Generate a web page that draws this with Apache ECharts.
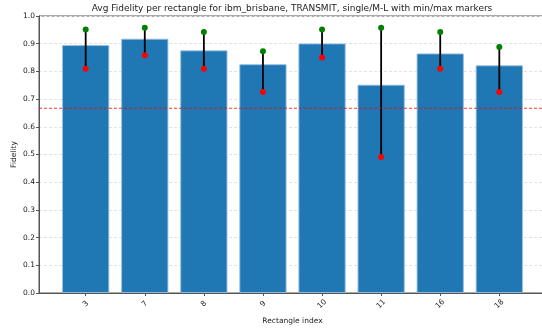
<!DOCTYPE html>
<html>
<head>
<meta charset="utf-8">
<script src="https://cdn.jsdelivr.net/npm/echarts@6/dist/echarts.min.js"></script>
<style>
  html, body { margin: 0; padding: 0; background: #fff; }
  #chart { width: 542px; height: 329px; }
</style>
</head>
<body>
<div id="chart"></div>
<script>
// rectangle ids on the x axis
const rectangles = ["3", "7", "8", "9", "10", "11", "16", "18"];
// average fidelity per rectangle
const avgFidelity = [0.895, 0.918, 0.876, 0.826, 0.901, 0.752, 0.865, 0.822];
// min / max markers
const minFidelity = [0.810, 0.858, 0.810, 0.726, 0.850, 0.491, 0.810, 0.726];
const maxFidelity = [0.951, 0.958, 0.942, 0.873, 0.951, 0.958, 0.942, 0.888];
const threshold = 0.667;
const xRange = [-0.79, 7.79];

const font = "DejaVu Sans";
const idx = rectangles.map((_, i) => i);

const chart = echarts.init(document.getElementById("chart"), null, { renderer: "canvas" });

const option = {
  animation: false,
  title: {
    text: "Avg Fidelity per rectangle for ibm_brisbane, TRANSMIT, single/M-L with min/max markers",
    left: 292,
    textAlign: "center",
    top: 4,
    padding: 0,
    textStyle: { fontFamily: font, fontSize: 9, fontWeight: "normal", color: "#222" },
  },
  grid: {
    left: 39,
    top: 16,
    width: 507,
    height: 277,
    outerBoundsMode: "none",
    containLabel: false,
    show: true,
    borderColor: "#555",
    borderWidth: 1,
  },
  xAxis: {
    type: "value",
    min: xRange[0],
    max: xRange[1],
    name: "Rectangle index",
    nameLocation: "middle",
    nameGap: 21,
    nameTextStyle: { fontFamily: font, fontSize: 7.5, color: "#222" },
    axisLine: { show: true, onZero: false, lineStyle: { color: "#555", width: 1 } },
    axisTick: { show: true, length: 3, lineStyle: { color: "#555" }, customValues: idx },
    axisLabel: {
      customValues: idx,
      formatter: (v) => rectangles[Math.round(v)],
      rotate: 45,
      margin: 11,
      align: "center",
      verticalAlign: "middle",
      fontFamily: font,
      fontSize: 7.5,
      color: "#222",
    },
    splitLine: { show: false },
  },
  yAxis: {
    type: "value",
    min: 0,
    max: 1,
    interval: 0.1,
    name: "Fidelity",
    nameLocation: "middle",
    nameGap: 21,
    nameMoveOverlap: false,
    nameTextStyle: { fontFamily: font, fontSize: 7.5, color: "#222" },
    axisLine: { show: true, onZero: false, lineStyle: { color: "#555", width: 1 } },
    axisTick: { show: true, length: 3, lineStyle: { color: "#555" } },
    axisLabel: {
      formatter: (v) => v.toFixed(1),
      margin: 4,
      fontFamily: font,
      fontSize: 7.5,
      color: "#222",
    },
    splitLine: { show: true, lineStyle: { color: "#e2e2e2", type: [3, 2], width: 1 } },
  },
  series: [
    {
      type: "bar",
      data: avgFidelity.map((v, i) => [i, v]),
      barWidth: "80%",
      itemStyle: { color: "#1f77b4", borderColor: "rgba(150,190,225,0.9)", borderWidth: 1 },
      z: 2,
    },
    {
      // threshold line
      type: "line",
      data: xRange.map((x) => [x, threshold]),
      symbol: "none",
      silent: true,
      lineStyle: { color: "#ff0000", type: [3, 2], width: 1, opacity: 0.8 },
      z: 5,
    },
    {
      type: "custom",
      data: idx.map((i) => [i, minFidelity[i], maxFidelity[i]]),
      renderItem: (params, api) => {
        const p1 = api.coord([api.value(0), api.value(1)]);
        const p2 = api.coord([api.value(0), api.value(2)]);
        return {
          type: "line",
          shape: { x1: p1[0], y1: p1[1], x2: p2[0], y2: p2[1] },
          style: { stroke: "#000", lineWidth: 1.8 },
        };
      },
      z: 3,
    },
    {
      type: "scatter",
      data: idx.map((i) => [i, minFidelity[i]]),
      symbolSize: 6,
      itemStyle: { color: "#ff0000", opacity: 1 },
      z: 4,
    },
    {
      type: "scatter",
      data: idx.map((i) => [i, maxFidelity[i]]),
      symbolSize: 6,
      itemStyle: { color: "#008000", opacity: 1 },
      z: 4,
    },
  ],
};

chart.setOption(option);
</script>
</body>
</html>
